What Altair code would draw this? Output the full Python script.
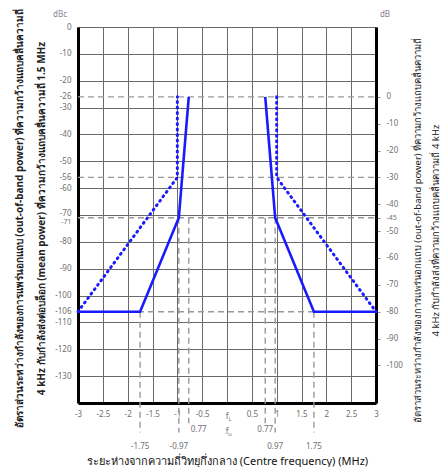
import altair as alt
import pandas as pd

# ---- data ----
solid_left_x = [-3, -1.75, -0.97, -0.77]
solid_left_y = [-106, -106, -71, -26]
solid_right_x = [0.77, 0.97, 1.75, 3]
solid_right_y = [-26, -71, -106, -106]
dotted_left_x = [-3, -1, -1]
dotted_left_y = [-106, -56, -26]
dotted_right_x = [1, 1, 3]
dotted_right_y = [-26, -56, -106]

ref_dbc = [-26, -56, -71, -106]
ref_db = [0, -30, -45, -80]

vl_x = [-1.75, -0.97, -0.77, 0.77, 0.97, 1.75]
vl_top = [-106, -71, -71, -71, -71, -106]
vl_bottom = [-151, -151, -147.5, -147.5, -151, -151]

ann_text = ["-1.75", "-0.97", "0.77", "0.77", "0.97", "1.75"]
ann_x = [-1.75, -0.97, -0.77, 0.77, 0.97, 1.75]
ann_y = [-156.3, -156.3, -150.2, -150.2, -156.3, -156.3]
ann_align = ["center", "center", "left", "center", "center", "center"]

x_ticks = [-3, -2.5, -2, -1.5, -1, -0.5, 0, 0.5, 1, 1.5, 2, 2.5, 3]
left_ticks = [0, -10, -20, -26, -30, -40, -50, -56, -60, -70, -71, -80, -90,
              -100, -106, -110, -120, -130]
right_ticks = [0, -10, -20, -30, -40, -45, -50, -60, -70, -80, -90, -100]

left_title = ["อัตราส่วนระหว่างกำลังของการแพร่นอกแถบ (out-of-band power) ที่ความกว้างแถบคลื่นความถี่",
              "4 kHz กับกำลังส่งต่อบล็อก (mean power) ที่ความกว้างแถบคลื่นความถี่ 1.5 MHz"]
right_title = ["อัตราส่วนระหว่างกำลังของการแพร่นอกแถบ (out-of-band power) ที่ความกว้างแถบคลื่นความถี่",
               "4 kHz กับกำลังส่งที่ความกว้างแถบคลื่นความถี่ 4 kHz"]
x_title = "ระยะห่างจากความถี่วิทยุกึ่งกลาง (Centre frequency) (MHz)"

FONT = "Noto Sans"
LBL = "#6f6f6f"

# ---- tables ----
rows = []
for name, xs, ys in [("sl", solid_left_x, solid_left_y), ("sr", solid_right_x, solid_right_y),
                     ("dl", dotted_left_x, dotted_left_y), ("dr", dotted_right_x, dotted_right_y)]:
    for i, (a, b) in enumerate(zip(xs, ys)):
        rows.append({"series": name, "kind": "solid" if name[0] == "s" else "dotted",
                     "f": a, "dbc": b, "o": i})
lines_df = pd.DataFrame(rows)
ref_df = pd.DataFrame({"x1": [-3] * 4, "x2": [3] * 4, "dbc": ref_dbc, "db": ref_db})
vl_df = pd.DataFrame({"f": vl_x, "top": vl_top, "bot": vl_bottom})
ann_df = pd.DataFrame({"f": ann_x, "dbc": ann_y, "t": ann_text, "al": ann_align})
unit_df = pd.DataFrame({"f": [-3, 3], "dbc": [0, 0], "t": ["dBc", "dB"]})
fc_df = pd.DataFrame({"f": [0, 0], "dbc": [-145.3, -150.8], "s": ["L", "u"], "t": ["f", "f"]})

xscale = alt.Scale(domain=[-3, 3], nice=False, zero=False)
yscale = alt.Scale(domain=[-140, 0], nice=False, zero=False)
yscale_r = alt.Scale(domain=[-114, 26], nice=False, zero=False)

xaxis = alt.Axis(values=x_ticks, grid=True, gridColor="#6a6a6a", gridWidth=1,
                 ticks=False, domainColor="#000", domainWidth=3, labelFlush=False,
                 labelExpr="datum.value == 0 ? '' : '' + datum.value",
                 labelFont=FONT, labelFontSize=8, labelColor=LBL, labelPadding=7,
                 title=x_title, titleFont=FONT, titleFontSize=11, titleFontWeight="normal",
                 titleColor="#111", titleX=149, titleY=58, titleAlign="center",
                 titleBaseline="middle")
yaxis = alt.Axis(orient="left", values=left_ticks, grid=True,
                 gridColor={"condition": {"test": "datum.value % 10 != 0", "value": "transparent"},
                            "value": "#6a6a6a"},
                 gridWidth=1, ticks=False, domainColor="#000", domainWidth=3,
                 labelExpr="'' + datum.value", labelOverlap=False, labelFlush=False,
                 labelBaseline={"condition": [{"test": "datum.value == -71", "value": "top"},
                                              {"test": "datum.value == -70", "value": "alphabetic"}],
                                "value": "middle"},
                 labelFontSize={"condition": {"test": "datum.value == -71", "value": 7},
                                "value": 8},
                 labelFont=FONT, labelColor=LBL, labelPadding=7,
                 title=left_title, titleFont=FONT, titleFontSize=10, titleFontWeight="bold",
                 titleColor="#222", titleAngle=270, titleX=-64, titleY=191,
                 titleAlign="center", titleBaseline="top", titleLineHeight=22)
yaxis_r = alt.Axis(orient="right", values=right_ticks, grid=False, ticks=True, tickSize=4,
                   tickColor="#888", tickWidth=1, domainColor="#000", domainWidth=3,
                   labelExpr="'' + datum.value", labelOverlap=False, labelFlush=False,
                   labelFontSize={"condition": {"test": "datum.value == -45", "value": 7},
                                  "value": 8},
                   labelFont=FONT, labelColor=LBL, labelPadding=6,
                   title=right_title, titleFont=FONT, titleFontSize=9.5, titleFontWeight="normal",
                   titleColor="#222", titleAngle=270, titleX=36, titleY=203,
                   titleAlign="center", titleBaseline="top", titleLineHeight=18)


def X(field):
    return alt.X(field, type="quantitative", scale=xscale, axis=xaxis)


def Y(field):
    return alt.Y(field, type="quantitative", scale=yscale, axis=yaxis)


# right axis layer (dashed reference lines, drawn first)
ref_layer = alt.Chart(ref_df).mark_rule(color="#999", strokeDash=[6, 4], strokeWidth=1.4).encode(
    x=X("x1"), x2="x2",
    y=alt.Y("db", type="quantitative", scale=yscale_r, axis=yaxis_r),
)

vlines = alt.Chart(vl_df).mark_rule(color="#999", strokeDash=[6, 4], strokeWidth=1.4,
                                    clip=False).encode(
    x=X("f"), y=Y("top"), y2="bot")

solid = alt.Chart(lines_df).transform_filter("datum.kind == 'solid'").mark_line(
    color="#1a1aff", strokeWidth=2.6).encode(
    x=X("f"), y=Y("dbc"), detail="series:N", order="o:Q")
dotted = alt.Chart(lines_df).transform_filter("datum.kind == 'dotted'").mark_line(
    color="#1a1aff", strokeWidth=3, strokeDash=[1, 4.5], strokeCap="round").encode(
    x=X("f"), y=Y("dbc"), detail="series:N", order="o:Q")

ann_c = alt.Chart(ann_df).transform_filter("datum.al == 'center'").mark_text(
    font=FONT, fontSize=8, color=LBL, baseline="middle", align="center", clip=False).encode(
    x=X("f"), y=Y("dbc"), text="t:N")
ann_l = alt.Chart(ann_df).transform_filter("datum.al == 'left'").mark_text(
    font=FONT, fontSize=8, color=LBL, baseline="middle", align="left", dx=2, clip=False).encode(
    x=X("f"), y=Y("dbc"), text="t:N")

unit_l = alt.Chart(unit_df).transform_filter("datum.t == 'dBc'").mark_text(
    font=FONT, fontSize=8, color="#8a7f99", baseline="middle", dx=-18, dy=-12,
    clip=False).encode(x=X("f"), y=Y("dbc"), text="t:N")
unit_r = alt.Chart(unit_df).transform_filter("datum.t == 'dB'").mark_text(
    font=FONT, fontSize=8, color="#8a7f99", baseline="middle", dx=9, dy=-12,
    clip=False).encode(x=X("f"), y=Y("dbc"), text="t:N")

fc_f = alt.Chart(fc_df).mark_text(font=FONT, fontSize=8, color=LBL, baseline="middle",
                                  clip=False).encode(
    x=X("f"), y=Y("dbc"), text="t:N")
fc_s = alt.Chart(fc_df).mark_text(font=FONT, fontSize=5.5, color=LBL, baseline="middle",
                                  dx=3, dy=2, clip=False).encode(
    x=X("f"), y=Y("dbc"), text="s:N")

inner = alt.layer(vlines, solid, dotted, ann_c, ann_l, unit_l, unit_r, fc_f, fc_s)

chart = alt.layer(ref_layer, inner).resolve_scale(y="independent").properties(
    width=298, height=376,
    autosize=alt.AutoSizeParams(type="none"),
    padding={"left": 70, "top": 19, "right": 64, "bottom": 64},
).configure_view(stroke=None).configure(background="white")

chart.save("out.html", embed_options={"renderer": "svg", "actions": False})
